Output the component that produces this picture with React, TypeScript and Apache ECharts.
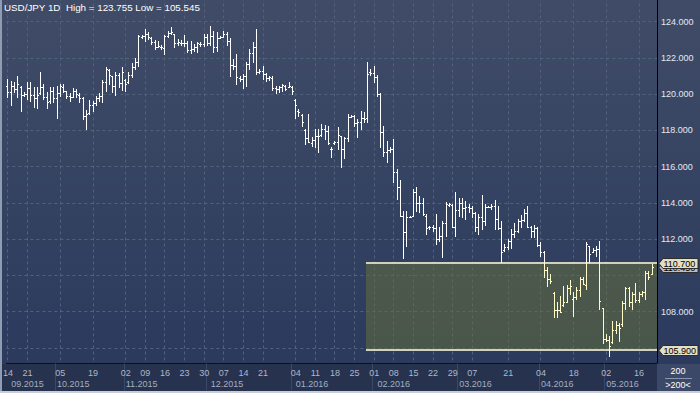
import React, { useEffect, useRef } from "react";
import * as echarts from "echarts";

// ---------- data ----------
const symbol = "USD/JPY";
const timeframe = "1D";

// one row per daily bar: [open, high, low, close]
const bars: number[][] = [
  [120.45, 120.84, 119.82, 120.1], [120.1, 120.74, 119.4, 120.45], [120.45, 120.69, 120.14, 120.3],
  [120.3, 121.02, 119.82, 120.55], [120.4, 120.43, 119.05, 119.95], [119.95, 120.1, 119.92, 120.0],
  [120.0, 120.65, 119.73, 120.35], [120.35, 120.65, 119.64, 119.95], [119.95, 120.41, 119.27, 119.8],
  [119.8, 120.38, 119.22, 119.95], [120.05, 121.24, 120.0, 120.4], [120.4, 120.56, 119.73, 119.85],
  [119.85, 120.14, 119.22, 119.55], [119.6, 120.38, 119.51, 120.2], [120.2, 120.38, 119.58, 119.8],
  [119.8, 120.43, 118.68, 120.05], [120.05, 120.56, 119.92, 120.45], [120.4, 120.56, 120.1, 120.2],
  [120.15, 120.19, 119.77, 119.9], [119.9, 120.06, 119.6, 119.85], [119.85, 120.34, 119.82, 120.2],
  [120.2, 120.28, 119.82, 120.0], [119.95, 120.06, 119.55, 119.8], [119.8, 119.82, 118.63, 118.8],
  [118.8, 119.14, 118.06, 118.9], [118.95, 119.68, 118.89, 119.4], [119.4, 119.64, 119.09, 119.5],
  [119.5, 119.92, 119.4, 119.8], [119.8, 120.04, 119.64, 119.9], [119.9, 120.78, 119.58, 120.7],
  [120.7, 121.52, 120.19, 121.4], [121.35, 121.39, 120.56, 121.05], [121.0, 121.02, 120.1, 120.45],
  [120.45, 121.24, 119.97, 121.05], [121.05, 121.17, 120.38, 120.6], [120.6, 121.52, 120.25, 121.25],
  [120.8, 120.84, 120.19, 120.55], [120.65, 121.2, 120.6, 121.05], [121.05, 121.7, 120.93, 121.5],
  [121.5, 121.98, 121.39, 121.75], [121.75, 123.26, 121.53, 123.2], [123.15, 123.26, 123.1, 123.2],
  [123.2, 123.6, 122.95, 123.3], [123.3, 123.45, 123.04, 123.15], [123.1, 123.14, 122.77, 122.9],
  [122.9, 123.0, 122.49, 122.6], [122.6, 122.91, 122.58, 122.65], [122.62, 122.71, 122.49, 122.58],
  [122.55, 123.26, 122.22, 123.2], [123.2, 123.5, 123.14, 123.4], [123.4, 123.7, 123.32, 123.45],
  [123.3, 123.32, 122.58, 122.8], [122.8, 123.04, 122.71, 122.9], [122.85, 123.0, 122.71, 122.8],
  [122.8, 123.26, 122.68, 122.85], [122.85, 122.95, 122.31, 122.45], [122.45, 122.95, 122.25, 122.5],
  [122.5, 122.77, 122.4, 122.6], [122.6, 122.9, 122.34, 122.8], [122.78, 122.9, 122.68, 122.75],
  [122.75, 123.32, 122.64, 123.15], [123.15, 123.32, 122.71, 122.85], [122.85, 123.755, 122.71, 123.2],
  [123.2, 123.5, 122.34, 122.6], [122.6, 123.41, 122.4, 123.1], [123.12, 123.19, 123.08, 123.15],
  [123.15, 123.5, 123.14, 123.3], [123.3, 123.45, 122.71, 122.95], [122.95, 123.08, 121.02, 121.6],
  [121.6, 121.94, 121.39, 121.55], [121.55, 122.22, 120.56, 120.95], [120.9, 121.02, 120.74, 120.85],
  [120.85, 121.11, 120.32, 121.0], [121.0, 121.79, 120.47, 121.65], [121.65, 122.49, 121.39, 122.25],
  [122.25, 122.86, 121.79, 122.6], [122.6, 123.6, 121.11, 121.2], [121.25, 121.39, 121.17, 121.3],
  [121.3, 121.53, 120.84, 121.1], [121.1, 121.17, 120.74, 120.9], [120.9, 121.02, 120.8, 120.95],
  [120.9, 121.02, 120.25, 120.35], [120.35, 120.47, 120.06, 120.3], [120.3, 120.43, 120.14, 120.4],
  [120.4, 120.56, 120.19, 120.5], [120.45, 120.5, 120.25, 120.3], [120.4, 120.65, 120.38, 120.45],
  [120.4, 120.47, 120.0, 120.2], [119.7, 119.73, 118.66, 119.4], [119.05, 119.18, 118.81, 119.0],
  [118.85, 118.9, 118.26, 118.45], [118.0, 118.08, 117.25, 117.6], [117.6, 118.9, 117.34, 117.35],
  [117.3, 117.62, 117.16, 117.5], [117.5, 118.08, 117.06, 117.7], [117.7, 118.08, 116.79, 117.7],
  [117.75, 118.35, 117.71, 118.1], [118.1, 118.3, 117.52, 117.95], [117.95, 118.26, 117.25, 117.3],
  [116.95, 117.06, 116.51, 117.0], [117.3, 117.43, 117.25, 117.35], [117.35, 118.17, 116.97, 117.75],
  [117.7, 117.71, 115.96, 117.0], [117.0, 117.62, 116.46, 117.6], [117.6, 118.9, 117.43, 118.75],
  [118.75, 118.85, 118.72, 118.8], [118.8, 118.85, 118.26, 118.4], [118.4, 118.63, 117.62, 118.45],
  [118.45, 119.09, 118.08, 118.7], [118.7, 119.0, 118.44, 118.65], [118.7, 121.76, 118.44, 121.1],
  [121.2, 121.39, 121.06, 121.15], [121.15, 121.53, 120.65, 120.95], [120.95, 121.06, 119.92, 120.0],
  [120.0, 120.06, 117.06, 117.9], [117.9, 118.26, 116.6, 116.8], [116.8, 117.43, 116.24, 116.9],
  [116.9, 117.06, 116.79, 116.95], [116.95, 117.52, 115.13, 115.7], [115.7, 115.87, 114.21, 114.9],
  [114.9, 115.28, 113.29, 113.3], [113.3, 113.57, 110.94, 112.4], [112.4, 113.57, 111.64, 113.2],
  [113.22, 113.29, 113.2, 113.25], [113.3, 114.76, 113.29, 114.6], [114.6, 114.86, 113.57, 114.0],
  [114.0, 114.4, 113.48, 114.0], [114.0, 114.3, 113.33, 113.4], [113.3, 113.38, 112.28, 112.6],
  [112.65, 112.74, 112.55, 112.7], [112.7, 112.78, 112.46, 112.6], [112.6, 113.38, 111.73, 112.0],
  [112.0, 112.65, 111.91, 112.2], [112.2, 113.02, 111.0, 112.9], [112.9, 114.03, 112.19, 113.95],
  [113.9, 113.99, 113.84, 113.95], [113.9, 113.94, 112.65, 112.7], [112.7, 114.58, 112.19, 113.6],
  [113.6, 114.25, 113.29, 114.0], [114.0, 114.3, 113.2, 113.7], [113.7, 114.12, 113.11, 113.8],
  [113.75, 113.94, 113.48, 113.7], [113.7, 113.84, 113.2, 113.45], [113.45, 113.48, 112.46, 112.7],
  [112.7, 113.38, 112.28, 113.2], [113.2, 114.43, 112.59, 113.0], [113.0, 113.94, 112.78, 113.8],
  [113.8, 113.84, 113.75, 113.8], [113.8, 113.94, 113.66, 113.85], [113.85, 114.17, 112.59, 113.1],
  [113.1, 113.84, 112.55, 112.6], [112.6, 113.02, 110.72, 111.3], [111.4, 111.73, 111.36, 111.55],
  [111.55, 112.0, 111.45, 111.9], [111.9, 112.55, 111.54, 112.3], [112.3, 112.92, 112.1, 112.45],
  [112.45, 113.11, 112.37, 113.0], [113.0, 113.33, 112.65, 113.05], [113.05, 113.66, 113.02, 113.45],
  [113.45, 113.84, 112.65, 112.7], [112.7, 112.74, 112.1, 112.45], [112.45, 112.78, 112.1, 112.6],
  [112.6, 112.65, 111.64, 111.7], [111.7, 111.82, 111.08, 111.3], [111.3, 111.36, 109.89, 110.3],
  [110.3, 110.44, 109.43, 109.8], [109.8, 110.07, 109.61, 109.7], [109.05, 109.1, 107.68, 108.1],
  [108.1, 108.51, 107.68, 108.1], [108.1, 108.88, 107.96, 108.0], [108.35, 109.43, 108.32, 108.55],
  [108.55, 109.47, 108.51, 109.3], [109.3, 109.74, 108.97, 109.4], [108.7, 109.06, 107.77, 108.8],
  [108.8, 109.34, 108.69, 109.2], [109.2, 109.89, 108.88, 109.8], [109.8, 109.89, 109.52, 109.55],
  [109.5, 111.82, 109.24, 111.75], [111.6, 111.64, 110.72, 111.2], [111.3, 111.49, 111.27, 111.4],
  [111.4, 111.64, 111.08, 111.45], [111.45, 111.91, 108.14, 108.6], [108.2, 108.23, 106.3, 106.5],
  [106.5, 106.76, 106.39, 106.45], [106.45, 106.67, 105.545, 106.1], [106.35, 107.5, 106.3, 107.0],
  [107.0, 107.5, 106.85, 107.25], [107.25, 107.4, 106.39, 107.1], [107.3, 108.6, 107.22, 108.5],
  [108.5, 109.34, 108.14, 109.3], [109.3, 109.34, 108.32, 108.55], [108.55, 109.06, 108.14, 109.0],
  [109.0, 109.61, 108.51, 108.65], [108.65, 109.06, 108.51, 109.0], [109.0, 109.15, 108.88, 109.1],
  [109.1, 110.26, 108.69, 110.15], [110.15, 110.26, 109.8, 109.9], [110.1, 110.63, 110.07, 110.45],
];

// bar index -> day-of-month label
const dayTicks: [number, string][] = [
  [0, "14"], [6, "21"], [16, "05"], [26, "19"], [36, "02"], [42, "09"], [48, "16"], [54, "23"],
  [60, "30"], [66, "07"], [72, "14"], [78, "21"], [88, "04"], [94, "11"], [100, "18"], [106, "25"],
  [112, "01"], [118, "08"], [124, "15"], [130, "22"], [136, "29"], [142, "07"], [153, "21"],
  [163, "04"], [173, "18"], [183, "02"], [193, "16"],
];
// bar index -> month label
const monthTicks: [number, string][] = [
  [1, "09.2015"], [15, "10.2015"], [36, "11.2015"], [62, "12.2015"], [88, "01.2016"],
  [113, "02.2016"], [138, "03.2016"], [163, "04.2016"], [183, "05.2016"],
];
// first bar of each month
const monthStarts: number[] = [15, 36, 61, 87, 112, 138, 163, 183];

// highlighted range
const boxStart = 109;
const boxTop = 110.7;
const boxBottom = 105.9;

// value axis
const yMin = 104;
const yMax = 126;
const yStep = 2;
const yLabelsShown: number[] = [108, 112, 114, 116, 118, 120, 122, 124];

const slotCount = bars.length + 1;

// ---------- styles / layout ----------
const FONT = '"Liberation Sans", Arial, sans-serif';
const FONT9 = `9px ${FONT}`;
const GRID_COLOR = "#52617e";
const BAR = "#ffffff";
const BAR_IN = "#fffac6";
const BOX_FILL = "rgba(99,109,58,0.55)";
const BOX_LINE = "#d2d1c0";
const TAG_FILL = "#e3dfc4";
const LAST_FILL = "#b9bdc6";
const OY = 15; // chart canvas is shifted up by this many pixels

export default function App() {
  const ref = useRef<HTMLDivElement>(null);

  useEffect(() => {
    document.body.style.margin = "0";
    const chart = echarts.init(ref.current!, undefined, { renderer: "svg" });

    const cats = Array.from({ length: slotCount }, (_, i) => String(i));
    const dayMap = new Map<number, string>(dayTicks);
    const monthMap = new Map<number, string>(monthTicks);
    const monthSet = new Set<number>(monthStarts);
    const maxHigh = Math.max(...bars.map((b) => b[1]));
    const minLow = Math.min(...bars.map((b) => b[2]));
    const lastClose = bars[bars.length - 1][3];
    const title = `${symbol} ${timeframe}  High = ${maxHigh.toFixed(3)} Low = ${minLow.toFixed(3)}`;

    const renderDecor = (params: any, api: any) => {
      const cs = params.coordSys;
      const right = cs.x + cs.width;
      const kids: any[] = [];
      for (const [idx] of dayTicks) {
        const x = Math.round(api.coord([idx, boxTop])[0] - 0.5) + 0.5;
        kids.push({
          type: "line",
          shape: { x1: x, y1: cs.y, x2: x, y2: cs.y + cs.height },
          style: { stroke: GRID_COLOR, lineWidth: 1, lineDash: [3, 3] },
        });
      }
      const half = api.size([1, 0])[0] / 2;
      const p = api.coord([boxStart, boxTop]);
      const left = Math.round(p[0] + half);
      const yT = Math.round(p[1]);
      const yB = Math.round(api.coord([boxStart, boxBottom])[1]);
      kids.push({ type: "rect", shape: { x: left, y: yT, width: right - left, height: yB - yT }, style: { fill: BOX_FILL } });
      kids.push({ type: "rect", shape: { x: left, y: yT - 1, width: right - left, height: 2 }, style: { fill: BOX_LINE } });
      kids.push({ type: "rect", shape: { x: left, y: yB - 1, width: right - left, height: 2 }, style: { fill: BOX_LINE } });
      const tag = (v: number, fill: string) => {
        const y = Math.round(api.coord([0, v])[1]) + 0.5;
        kids.push({
          type: "polygon",
          shape: { points: [[right + 2, y], [right + 6, y - 5], [right + 41, y - 5], [right + 41, y + 5], [right + 6, y + 5]] },
          style: { fill, stroke: "#2e2e2e", lineWidth: 1 },
        });
        kids.push({
          type: "text",
          style: {
            text: v.toFixed(3), x: right + 6.5, y, fill: "#000", font: FONT9,
            textAlign: "left", textVerticalAlign: "middle", align: "left", verticalAlign: "middle",
          },
        });
      };
      tag(lastClose, LAST_FILL);
      tag(boxTop, TAG_FILL);
      tag(boxBottom, TAG_FILL);
      return { type: "group", children: kids };
    };

    const renderBar = (_params: any, api: any) => {
      const i = api.value(0);
      const ph = api.coord([i, api.value(2)]);
      const x = ph[0];
      const yH = Math.round(ph[1]);
      const yL = Math.round(api.coord([i, api.value(3)])[1]);
      const yO = Math.round(api.coord([i, api.value(1)])[1]);
      const yC = Math.round(api.coord([i, api.value(4)])[1]);
      const half = api.size([1, 0])[0] / 2;
      const bp = api.coord([boxStart, boxTop]);
      const boxLeft = bp[0] + half;
      const bT = Math.round(bp[1]);
      const bB = Math.round(api.coord([boxStart, boxBottom])[1]);
      const px = Math.round(x - 0.5);
      const inX = x > boxLeft;
      const kids: any[] = [];
      const seg = (a: number, b: number, fill: string) => {
        if (b > a) kids.push({ type: "rect", shape: { x: px, y: a, width: 1, height: b - a }, style: { fill } });
      };
      const top = yH;
      const bot = yL + 1;
      if (inX) {
        seg(top, Math.min(bot, bT), BAR);
        seg(Math.max(top, bT), Math.min(bot, bB), BAR_IN);
        seg(Math.max(top, bB), bot, BAR);
      } else {
        seg(top, bot, BAR);
      }
      const col = (y: number) => (inX && y >= bT && y < bB ? BAR_IN : BAR);
      kids.push({ type: "rect", shape: { x: px - 1, y: yO, width: 1, height: 1 }, style: { fill: col(yO) } });
      kids.push({ type: "rect", shape: { x: px + 1, y: yC, width: 1, height: 1 }, style: { fill: col(yC) } });
      return { type: "group", children: kids };
    };

    const catAxisBase = { type: "category", data: cats, boundaryGap: true, gridIndex: 0 };

    chart.setOption({
      animation: false,
      backgroundColor: "transparent",
      grid: { left: 3.36, top: OY - 14.55, width: 653.64, height: 398.75, containLabel: false },
      xAxis: [
        { ...catAxisBase, show: false },
        {
          ...catAxisBase, position: "bottom", offset: -20.7, z: 10,
          axisLine: { show: true, lineStyle: { color: "#0b1020", width: 1 } },
          axisTick: { show: false }, splitLine: { show: false },
          axisLabel: {
            interval: (i: number) => dayMap.has(i),
            formatter: (_v: string, i: number) => dayMap.get(i) ?? "",
            color: "#aeb8c9", fontSize: 9, fontFamily: FONT, margin: 5,
          },
        },
        {
          ...catAxisBase, position: "bottom", offset: -20.7, z: 10,
          axisLine: { show: false }, splitLine: { show: false },
          axisTick: { show: true, interval: (i: number) => monthSet.has(i), length: 27, lineStyle: { color: "#3b4866", width: 1 } },
          axisLabel: {
            interval: (i: number) => monthMap.has(i),
            formatter: (_v: string, i: number) => monthMap.get(i) ?? "",
            color: "#a4aec1", fontSize: 9, fontFamily: FONT, margin: 16, align: "left",
          },
        },
      ],
      yAxis: {
        type: "value", min: yMin, max: yMax, interval: yStep, position: "right",
        axisLine: { show: true, lineStyle: { color: "#000", width: 1 } },
        axisTick: { show: false },
        splitLine: { show: true, lineStyle: { color: GRID_COLOR, width: 1, type: [3, 3] } },
        axisLabel: {
          formatter: (v: number) => (yLabelsShown.includes(v) ? v.toFixed(3) : ""),
          color: "#e4e9f2", fontSize: 9, fontFamily: FONT, margin: 4,
        },
      },
      series: [
        {
          type: "custom", name: "decor", xAxisIndex: 0, yAxisIndex: 0, z: 2, silent: true, clip: false,
          data: [[boxStart, boxTop, boxBottom]], renderItem: renderDecor,
        },
        {
          type: "custom", name: symbol, xAxisIndex: 0, yAxisIndex: 0, z: 3, silent: true, clip: true,
          data: bars.map((b, i) => [i, ...b]), encode: { x: 0, y: [1, 2, 3, 4] }, renderItem: renderBar,
        },
      ],
      graphic: [
        { type: "rect", z: 5, silent: true, shape: { x: 0, y: OY + 364, width: 657, height: 27 }, style: { fill: "#26324e" } },
        { type: "rect", z: 5, silent: true, shape: { x: 658, y: OY + 364, width: 42, height: 27 }, style: { fill: "#3b4868" } },
        { type: "text", z: 6, x: 678, y: OY + 371, style: { text: "200", fill: "#ffffff", font: FONT9, textAlign: "center", textVerticalAlign: "middle", align: "center", verticalAlign: "middle" } },
        { type: "line", z: 6, shape: { x1: 665, y1: OY + 378.5, x2: 692, y2: OY + 378.5 }, style: { stroke: "#8a96ad", lineWidth: 1 } },
        { type: "text", z: 6, x: 678, y: OY + 385, style: { text: ">200<", fill: "#ffffff", font: FONT9, textAlign: "center", textVerticalAlign: "middle", align: "center", verticalAlign: "middle" } },
        { type: "rect", z: 20, silent: true, shape: { x: 0, y: 0, width: 2, height: OY + 393 }, style: { fill: "#8f9cb2" } },
        { type: "rect", z: 20, silent: true, shape: { x: 0, y: OY + 391, width: 700, height: 2 }, style: { fill: "#c9ced6" } },
        { type: "text", z: 20, x: 4, y: OY + 7.5, style: { text: title, fill: "#ffffff", font: `9.8px ${FONT}`, textAlign: "left", textVerticalAlign: "middle", align: "left", verticalAlign: "middle" } },
      ],
    });

    return () => chart.dispose();
  }, []);

  return (
    <div
      style={{
        position: "absolute", left: 0, top: 0, width: 700, height: 393, overflow: "hidden",
        background: "linear-gradient(180deg, #404c67 0px, #2b3a5d 363px, #2b3a5d 393px)",
      }}
    >
      <div ref={ref} style={{ position: "absolute", left: 0, top: -OY, width: 700, height: 393 + OY }} />
    </div>
  );
}
